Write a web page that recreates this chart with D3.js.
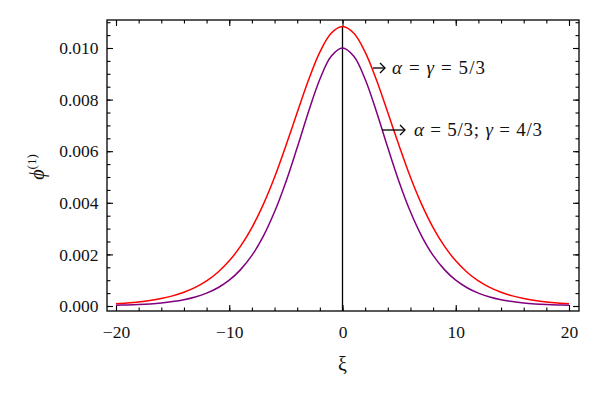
<!DOCTYPE html>
<html>
<head>
<meta charset="utf-8">
<script src="https://cdn.jsdelivr.net/npm/d3@7"></script>
<style>
  body { margin: 0; background: #fff; }
  text { font-family: "Liberation Serif", "DejaVu Serif", serif; fill: #111; }
</style>
</head>
<body>
<svg id="chart" width="600" height="397"></svg>
<script>
// values
const xi = [-20, -19, -18, -17, -16, -15, -14, -13, -12, -11, -10, -9, -8, -7, -6, -5, -4, -3, -2, -1,
            0, 1, 2, 3, 4, 5, 6, 7, 8, 9, 10, 11, 12, 13, 14, 15, 16, 17, 18, 19, 20];
const phiRed = [0.0000833, 0.000114, 0.000155, 0.000211, 0.000288, 0.000392, 0.000532, 0.000720, 0.000972, 0.00131,
                0.00175, 0.00232, 0.00304, 0.00393, 0.00499, 0.00621, 0.00750, 0.00876, 0.00984, 0.01057,
                0.01083,
                0.01057, 0.00984, 0.00876, 0.00750, 0.00621, 0.00499, 0.00393, 0.00304, 0.00232, 0.00175,
                0.00131, 0.000972, 0.000720, 0.000532, 0.000392, 0.000288, 0.000211, 0.000155, 0.000114, 0.0000833];
const phiPurple = [0.0000277, 0.0000399, 0.0000573, 0.0000823, 0.000118, 0.000170, 0.000243, 0.000348, 0.000497, 0.000707,
                   0.00100, 0.00141, 0.00196, 0.00270, 0.00365, 0.00481, 0.00614, 0.00753, 0.00879, 0.00968,
                   0.01000,
                   0.00968, 0.00879, 0.00753, 0.00614, 0.00481, 0.00365, 0.00270, 0.00196, 0.00141, 0.00100,
                   0.000707, 0.000497, 0.000348, 0.000243, 0.000170, 0.000118, 0.0000823, 0.0000573, 0.0000399, 0.0000277];
const xTicks = [-20, -10, 0, 10, 20];
const yTicks = [0, 0.002, 0.004, 0.006, 0.008, 0.010];
const seriesNames = ["red", "purple"];
const seriesLabels = ["α = γ = 5/3", "α = 5/3; γ = 4/3"];

let svg = d3.select("#chart");

let frameLeft = 107, frameRight = 579, frameTop = 20, frameBottom = 311;

let x = d3.scaleLinear().domain([-20, 20]).range([116, 569]);
let y = d3.scaleLinear().domain([0, 0.01]).range([306, 48]);

let xMinor = d3.range(-20, 20.01, 2);
let yMinor = d3.range(0, 0.01105, 0.0005);

//frame
svg.append("rect")
    .attr("x", frameLeft).attr("y", frameTop)
    .attr("width", frameRight - frameLeft).attr("height", frameBottom - frameTop)
    .attr("fill", "none").attr("stroke", "#000").attr("stroke-width", 1.3);

function drawAxis(axis, tx, ty, labels) {
    let g = svg.append("g")
        .attr("transform", "translate(" + tx + "," + ty + ")")
        .call(axis);
    g.select(".domain").remove();
    g.selectAll("line").attr("stroke", "#000").attr("stroke-width", 1.1);
    g.selectAll("text")
        .style("font-family", "'Liberation Serif', serif")
        .style("font-size", "17.5px")
        .attr("fill", "#111");
    if (!labels) g.selectAll("text").remove();
    return g;
}

//major + minor ticks on all four sides, pointing inward
drawAxis(d3.axisBottom(x).tickValues(xMinor).tickSize(-3.5).tickFormat(""), 0, frameBottom, false);
drawAxis(d3.axisBottom(x).tickValues(xTicks).tickSize(-6).tickPadding(15).tickFormat(d3.format("d")), 0, frameBottom, true);
drawAxis(d3.axisTop(x).tickValues(xMinor).tickSize(-3.5).tickFormat(""), 0, frameTop, false);
drawAxis(d3.axisTop(x).tickValues(xTicks).tickSize(-6).tickFormat(""), 0, frameTop, false);

drawAxis(d3.axisLeft(y).tickValues(yMinor).tickSize(-3.5).tickFormat(""), frameLeft, 0, false);
drawAxis(d3.axisLeft(y).tickValues(yTicks).tickSize(-6).tickPadding(8.5).tickFormat(d3.format(".3f")), frameLeft, 0, true);
drawAxis(d3.axisRight(y).tickValues(yMinor).tickSize(-3.5).tickFormat(""), frameRight, 0, false);
drawAxis(d3.axisRight(y).tickValues(yTicks).tickSize(-6).tickFormat(""), frameRight, 0, false);

//vertical line at xi = 0 up to the highest peak
svg.append("line")
    .attr("x1", x(0)).attr("x2", x(0))
    .attr("y1", frameBottom).attr("y2", y(d3.max(phiRed)))
    .attr("stroke", "#000").attr("stroke-width", 1.3);

//curves
let line = d3.line()
    .x(d => x(d[0]))
    .y(d => y(d[1]))
    .curve(d3.curveCatmullRom.alpha(0.5));

let colors = {red: "#ff0000", purple: "#800080"};
let seriesData = {red: phiRed, purple: phiPurple};

svg.append("g").selectAll("path")
    .data(seriesNames)
    .enter().append("path")
    .attr("d", name => line(d3.zip(xi, seriesData[name])))
    .attr("fill", "none")
    .attr("stroke", name => colors[name])
    .attr("stroke-width", 1.5);

//annotations
let notes = [
    {x0: 373, x1: 385, y: 68, tx: 392, ty: 74, len: 93},
    {x0: 382, x1: 405, y: 130, tx: 414, ty: 136, len: 128}
];

notes.forEach(function (n, i) {
    svg.append("line")
        .attr("x1", n.x0).attr("x2", n.x1)
        .attr("y1", n.y).attr("y2", n.y)
        .attr("stroke", "#000").attr("stroke-width", 1.3);
    svg.append("path")
        .attr("d", "M" + (n.x1 - 5) + "," + (n.y - 5) + "L" + n.x1 + "," + n.y + "L" + (n.x1 - 5) + "," + (n.y + 5))
        .attr("fill", "none").attr("stroke", "#000").attr("stroke-width", 1.3);

    let t = svg.append("text")
        .attr("x", n.tx).attr("y", n.ty)
        .attr("textLength", n.len)
        .attr("lengthAdjust", "spacing")
        .style("font-size", "19px");
    //greek letters in italic
    seriesLabels[i].split(/([αγ])/).forEach(function (part) {
        if (part === "") return;
        t.append("tspan")
            .style("font-style", (part === "α" || part === "γ") ? "italic" : "normal")
            .text(part);
    });
});

//axis titles
svg.append("text")
    .attr("x", x(0)).attr("y", 371)
    .attr("text-anchor", "middle")
    .style("font-size", "20px")
    .text("ξ");

let yt = svg.append("text")
    .attr("transform", "translate(44,167) rotate(-90)")
    .attr("text-anchor", "middle")
    .style("font-size", "20px");
yt.append("tspan").style("font-style", "italic").text("ϕ");
yt.append("tspan").attr("dy", -8).style("font-size", "13px").text("(1)");
</script>
</body>
</html>
